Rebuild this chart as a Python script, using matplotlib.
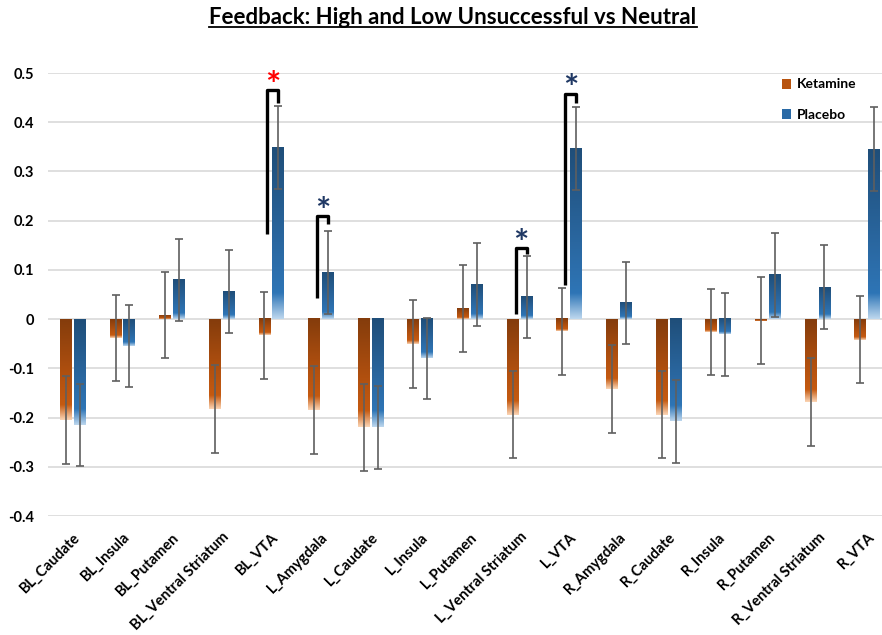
import matplotlib
matplotlib.use("Agg")
import matplotlib.pyplot as plt
from matplotlib.colors import LinearSegmentedColormap
from matplotlib.lines import Line2D
from matplotlib.patches import Rectangle
import numpy as np

plt.rcParams['font.family'] = ['Lato', 'DejaVu Sans']

# --- data ---
regions = ["BL_Caudate", "BL_Insula", "BL_Putamen", "BL_Ventral Striatum", "BL_VTA",
           "L_Amygdala", "L_Caudate", "L_Insula", "L_Putamen", "L_Ventral Striatum",
           "L_VTA", "R_Amygdala", "R_Caudate", "R_Insula", "R_Putamen",
           "R_Ventral Striatum", "R_VTA"]
ketamine = [-0.205, -0.038, 0.008, -0.182, -0.033, -0.185, -0.220, -0.050, 0.022,
            -0.194, -0.025, -0.142, -0.194, -0.026, -0.003, -0.168, -0.042]
ketamine_err = [0.090, 0.088, 0.088, 0.089, 0.089, 0.090, 0.088, 0.089, 0.088,
                0.089, 0.088, 0.089, 0.089, 0.088, 0.089, 0.089, 0.088]
placebo = [-0.215, -0.054, 0.080, 0.056, 0.348, 0.095, -0.220, -0.080, 0.070,
           0.045, 0.347, 0.033, -0.208, -0.031, 0.090, 0.065, 0.345]
placebo_err = [0.083, 0.083, 0.083, 0.084, 0.084, 0.084, 0.084, 0.083, 0.084,
               0.084, 0.084, 0.084, 0.084, 0.084, 0.085, 0.085, 0.085]

# significance brackets: (region index, bottom of left leg, top, bottom of right leg, star colour)
brackets = [(4, 0.172, 0.466, 0.439, "#ff0000"),
            (5, 0.043, 0.210, 0.193, "#1f3864"),
            (9, 0.010, 0.145, 0.133, "#1f3864"),
            (10, 0.069, 0.458, 0.440, "#1f3864")]

# --- figure ---
fig = plt.figure(figsize=(8.82, 6.35), dpi=100)
ax = fig.add_axes([48 / 882, 119 / 635, 844 / 882, 443 / 635])

x = np.arange(len(regions))
w = 0.24
off = 0.14

k_cmap = LinearSegmentedColormap.from_list("k", [(0, "#843c0c"), (0.55, "#b1500f"),
                                                 (0.85, "#c55a11"), (1, "#fbd5b5")])
p_cmap = LinearSegmentedColormap.from_list("p", [(0, "#1f4e79"), (0.55, "#2a67a0"),
                                                 (0.85, "#2e75b6"), (1, "#bdd7ee")])
grad = np.linspace(0, 1, 256).reshape(-1, 1)

kb = ax.bar(x - off, ketamine, w, color="none", linewidth=0)
pb = ax.bar(x + off, placebo, w, color="none", linewidth=0)
for bars, cmap in [(kb, k_cmap), (pb, p_cmap)]:
    for b in bars:
        x0, y0 = b.get_x(), b.get_y()
        bw, bh = b.get_width(), b.get_height()
        ax.imshow(grad, extent=[x0, x0 + bw, min(y0, y0 + bh), max(y0, y0 + bh)],
                  cmap=cmap, aspect="auto", origin="upper", zorder=2,
                  interpolation="bilinear")

ax.errorbar(x - off, ketamine, yerr=ketamine_err, fmt="none", ecolor="#5f5f5f",
            elinewidth=1.2, capsize=3.2, capthick=1.2, zorder=3)
ax.errorbar(x + off, placebo, yerr=placebo_err, fmt="none", ecolor="#5f5f5f",
            elinewidth=1.2, capsize=3.2, capthick=1.2, zorder=3)

# brackets + stars
for i, ylo, ytop, yright, col in brackets:
    xl = i - off + 0.06
    xr = i + off
    ax.plot([xl, xl, xr, xr], [ylo, ytop, ytop, yright], color="black", lw=2.4,
            solid_joinstyle="round", solid_capstyle="butt", zorder=4)
    ax.text((xl + xr) / 2, ytop - 0.026, "*", color=col, fontsize=26, fontweight="bold",
            ha="center", va="bottom", zorder=5)

ax.set_xlim(-0.5, len(regions) - 0.5)
ax.set_ylim(-0.4, 0.5)
ax.set_yticks(np.arange(-0.4, 0.51, 0.1))
ax.set_yticklabels(["-0.4", "-0.3", "-0.2", "-0.1", "0", "0.1", "0.2", "0.3", "0.4", "0.5"])
ax.set_xticks(x)
ax.set_xticklabels(regions, rotation=45, ha="right", rotation_mode="anchor")
ax.tick_params(axis="both", length=0, labelsize=10.5)
ax.tick_params(axis="x", pad=10)
ax.tick_params(axis="y", pad=10)
for lab in ax.get_xticklabels() + ax.get_yticklabels():
    lab.set_fontweight("bold")
ax.grid(axis="y", color="#d9d9d9", lw=1.2, zorder=0)
ax.set_axisbelow(True)
for s in ax.spines.values():
    s.set_visible(False)

# legend
handles = [Rectangle((0, 0), 1, 1, facecolor="#b8540f"),
           Rectangle((0, 0), 1, 1, facecolor="#2a6aa6")]
fig.legend(handles, ["Ketamine", "Placebo"], loc="upper left",
           bbox_to_anchor=(769 / 882, 1 - 66 / 635), frameon=False,
           prop={"weight": "bold", "size": 10}, handlelength=0.7, handleheight=0.7,
           handletextpad=0.4, labelspacing=1.3)

# underlined title
title = fig.text(453 / 882, 1 - 18 / 635, "Feedback: High and Low Unsuccessful vs Neutral",
                 ha="center", va="center", fontsize=16, fontweight="bold")
fig.canvas.draw()
bb = title.get_window_extent().transformed(fig.transFigure.inverted())
fig.add_artist(Line2D([bb.x0, bb.x1], [bb.y0 + 0.002, bb.y0 + 0.002],
                      color="black", lw=1.3, transform=fig.transFigure))

fig.savefig("out.png", dpi=100)
